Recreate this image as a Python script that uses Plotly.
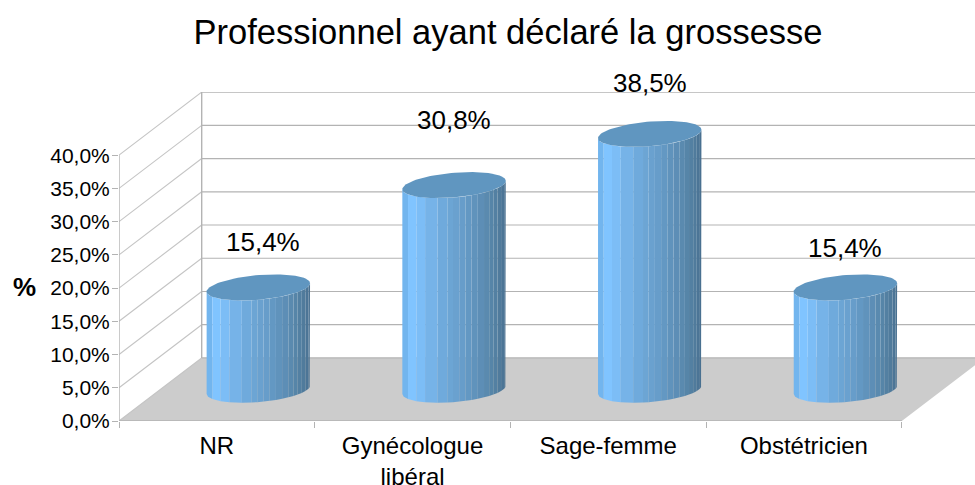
import numpy as np
import plotly.graph_objects as go

categories = ["NR", "Gynécologue<br>libéral", "Sage-femme", "Obstétricien"]
values = [15.4, 30.8, 38.5, 15.4]
value_labels = ["15,4%", "30,8%", "38,5%", "15,4%"]
y_ticks = [0, 5, 10, 15, 20, 25, 30, 35, 40]
y_tick_labels = ["0,0%", "5,0%", "10,0%", "15,0%", "20,0%", "25,0%", "30,0%", "35,0%", "40,0%"]
title_text = "Professionnel ayant déclaré la grossesse"
y_title = "%"

# pixel frame of the front plane
W, H = 975, 485
L, B_PX, T_PX = 119.0, 420.7, 92.0
CAT_W = 195.7
PX_PER_PCT = 6.64
XMAX = (W - L) / CAT_W
YMAX = (B_PX - T_PX) / PX_PER_PCT
DX, DY = 82.7 / CAT_W, 63.0 / PX_PER_PCT   # depth offset, in data units

# cylinder look
CX_OFF, BASE = 0.712, 4.7
HALF_W = 51.7 / CAT_W
ELL_B, ELL_K = 12.3 / PX_PER_PCT, 4.2 / PX_PER_PCT
facet_edges = [0, .055, .135, .22, .34, .435, .49, .55, .61, .67, .73, .79, .84, .88, .92, .955, .985, 1]
facet_colors = ["#72b5ee", "#80c4ff", "#7cbdf6", "#76b3e8", "#6faadc", "#6ca5d4", "#6aa1cf", "#679dca",
                "#6398c3", "#6093bc", "#5d8eb6", "#5a8aaf", "#5685a8", "#5380a2", "#507b9c", "#4c7596", "#497090"]
TOP_COLOR = "#6096c0"
FLOOR = "#cccccc"
GRID = "#b3b3b3"
DIAG = "#c4c4c4"
AXIS = "#b3b3b3"

# label offsets in pixels relative to each bar's top-centre
label_dx = [5, 0, 0, 0]
label_dy = [77, 96, 82, 71]

fig = go.Figure()


def poly(xs, ys, color):
    fig.add_trace(go.Scatter(x=xs, y=ys, mode="lines", fill="toself", fillcolor=color,
                             line=dict(width=0, color=color), hoverinfo="skip",
                             showlegend=False, cliponaxis=False))


def line(xs, ys, color, w=1.3):
    fig.add_trace(go.Scatter(x=xs, y=ys, mode="lines", line=dict(width=w, color=color),
                             hoverinfo="skip", showlegend=False, cliponaxis=False))


# floor
poly([0, 4, 4 + DX, DX, 0], [0, 0, DY, DY, 0], FLOOR)
# walls
for v in y_ticks:
    line([0, DX], [v, v + DY], DIAG, 1.1)
    line([DX, XMAX], [v + DY, v + DY], GRID, 1.2)
line([DX, DX], [DY, 40 + DY], GRID, 1.4)
line([0, 0], [0, 40], AXIS, 1.4)
line([0, 4], [0, 0], AXIS, 1.4)


def lower_arc(cx, base, u):
    # u in [0,1] across the width
    c = 2 * u - 1
    s = np.sqrt(np.clip(1 - c ** 2, 0, 1))
    return base + ELL_K * c - ELL_B * s


for i, v in enumerate(values):
    cx = i + CX_OFF
    for j, col in enumerate(facet_colors):
        u0, u1 = facet_edges[j], facet_edges[j + 1]
        us = np.linspace(u0, u1, 5)
        xs = cx - HALF_W + 2 * HALF_W * us
        ys_bot = lower_arc(cx, BASE, us)
        ys_top = lower_arc(cx, BASE + v, us)
        poly(np.r_[xs, xs[::-1], xs[0]], np.r_[ys_top, ys_bot[::-1], ys_top[0]], col)
    t = np.linspace(0, 2 * np.pi, 90)
    poly(cx + HALF_W * np.cos(t), BASE + v + ELL_B * np.sin(t) + ELL_K * np.cos(t), TOP_COLOR)
    fig.add_annotation(x=cx - 0.0, y=v, text=value_labels[i], showarrow=False,
                       xshift=label_dx[i], yshift=label_dy[i],
                       font=dict(size=26, color="#000000"))

fig.update_layout(
    width=W, height=H, autosize=False,
    margin=dict(l=L, r=0, t=T_PX, b=H - B_PX, pad=0),
    paper_bgcolor="white", plot_bgcolor="rgba(0,0,0,0)",
    font=dict(family="Liberation Sans, Arial, sans-serif", color="#000000"),
    showlegend=False,
    title=dict(text=title_text, x=508 / W, xanchor="center", y=1 - 32 / H, yanchor="middle",
               font=dict(size=34.5, color="#000000")),
    xaxis=dict(range=[0, XMAX], tickmode="array", tickvals=[0.5, 1.5, 2.5, 3.5], ticktext=categories,
               ticks="", showgrid=False, zeroline=False, showline=False, tickfont=dict(size=24),
               ticklabelposition="outside", ticklabelstandoff=8, automargin=False,
               minor=dict(tickmode="array", tickvals=[0, 1, 2, 3, 4], ticks="outside", ticklen=6,
                          tickcolor=AXIS, tickwidth=1.3, showgrid=False)),
    yaxis=dict(range=[0, YMAX], tickmode="array", tickvals=y_ticks, ticktext=y_tick_labels,
               ticks="outside", ticklen=6, tickcolor=AXIS, tickwidth=1.3, showgrid=False,
               ticklabelstandoff=-2,
               zeroline=False, showline=False, tickfont=dict(size=21), automargin=False),
)
fig.add_annotation(xref="paper", yref="paper", x=-95 / (W - L), xanchor="center",
                   y=(B_PX - 287) / (B_PX - T_PX), yanchor="middle", text=y_title,
                   showarrow=False, font=dict(size=26), textangle=0)
fig.layout.annotations[-1].font.weight = "bold"

fig.write_html("out.html", config={"displayModeBar": False},
               post_script="document.body.style.margin='0';")
